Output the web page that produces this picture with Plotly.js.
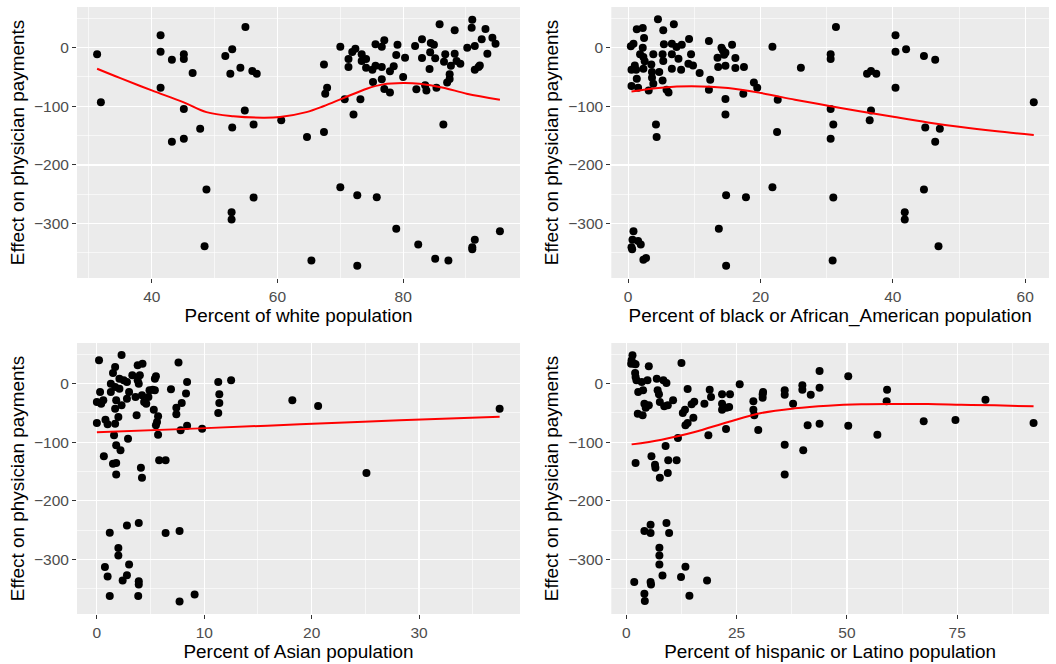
<!DOCTYPE html>
<html>
<head>
<meta charset="utf-8">
<script src="https://cdn.plot.ly/plotly-3.0.1.min.js"></script>
<style>html,body{margin:0;padding:0;background:#fff;}#chart{width:1056px;height:664px;}</style>
</head>
<body>
<div id="chart"></div>
<script>
// ---- data ----
const whiteX = [31.3,31.9,41.4,41.4,41.4,43.2,43.2,45.1,45.1,45.1,45.1,46.5,47.7,48.4,48.7,51.7,52.5,52.8,52.8,52.7,52.7,54.1,54.9,54.8,56.0,56.7,56.2,56.2,60.6,64.7,65.4,67.4,67.6,67.9,67.4,70.0,70.0,70.7,71.3,71.3,72.1,71.9,72.4,72.7,72.7,73.2,73.4,73.4,74.1,74.1,75.1,75.2,75.6,75.6,75.8,76.6,76.6,76.6,77.0,77.0,77.9,77.9,78.5,78.9,78.9,79.1,80.0,80.3,81.9,82.1,82.4,83.0,83.0,83.5,83.7,84.2,84.3,84.4,84.9,85.1,85.1,85.3,85.8,86.4,86.5,86.7,87.0,87.2,87.4,87.4,87.6,88.2,88.2,88.5,89.1,90.2,90.9,91.0,91.0,91.0,91.4,91.4,91.4,92.0,92.2,92.5,93.1,93.4,94.2,94.7,95.4];
const whiteY = [-11.4,-93.3,21,-6.8,-68.3,-20.5,-160.5,-11.4,-19.4,-104.7,-155.4,-43.3,-138.3,-338.6,-241.9,-14.2,-44.4,-2.8,-136,-280.6,-293.1,-34.1,35.3,-107,-39.8,-44.4,-130.9,-255.5,-124,-152.5,-363,-28.5,-78.5,-68.3,-144,1.7,-238,-88.2,-19.4,-33,-113.8,-7.4,-1.7,-251.6,-372.2,-88.2,-11.4,-22.8,-19.4,-34.1,-37.6,-58.6,5.7,-30.7,-255,1.7,-54,-33,12.5,-70.6,-76.3,-40.4,-31.9,-12.5,-309,5.1,-50.1,-17,2.8,-71.1,-335.8,14.2,-17.6,-64.3,-72.9,-36.4,-8,8,5.1,-18.2,-360.3,-68.3,39.8,-130.9,-23.9,-11.4,-59.2,-363,-45.5,-53.5,-30.7,29.6,-10.2,-22.8,-27.3,0,34.1,47.8,-340.4,-343.8,2.8,-37.6,-327.8,-33,-30.2,14.2,31.9,-10.2,17.1,6.8,-313];
const whiteSmoothX = [31.3,35,40,45,48.7,53,57.7,60.4,64.6,67.3,70.5,74.2,76.8,80,82.6,86.4,90.1,95.4];
const whiteSmoothY = [-35.9,-52,-72.9,-92.8,-110,-117,-119.5,-118.4,-110,-100,-86,-70,-62.6,-60.3,-61.5,-68.3,-78.5,-88.8];

const blackX = [0.5,0.4,0.8,0.5,1.0,1.2,1.3,1.5,1.3,0.8,0.65,0.5,0.6,1.5,1.9,2.3,2.7,2.2,2.4,2.2,1.8,2.3,2.5,2.3,3.5,3.6,3.6,3.1,3.8,3.8,4.2,4.3,4.5,4.7,5.3,5.4,5.2,5.3,5.2,5.8,6.1,6.6,6.6,6.6,6.9,7.3,7.6,8.1,8.0,9.2,9.1,9.5,9.8,10.8,12.2,12.4,12.2,13.7,13.5,13.6,14.1,14.3,14.5,14.7,14.7,14.7,14.7,14.8,14.8,15.7,16.2,16.2,17.5,17.4,17.8,19.0,19.5,21.8,21.8,22.6,22.5,26.1,30.6,30.6,30.6,30.6,31.0,31.0,30.9,31.4,36.1,36.7,37.5,36.7,36.5,40.4,40.4,40.4,42.0,41.8,41.8,44.7,44.9,44.7,46.4,46.4,47.1,46.9,61.3];
const blackY = [-65.5,2.3,6.8,-37.6,-30.2,-37.6,-53,-68.3,31.3,-313,-327.8,-340.4,-343.8,-330,-335.8,-362,-359,33.6,16.5,0,-11.4,-15.9,-23.3,-35.9,-28.5,-41.5,-51.2,-72.9,-61.5,-11.4,-130.9,-152.5,48.4,-41.5,29.6,5.7,-11.4,-22.8,-55.8,-71.7,-76.3,6.8,-11.4,-35.9,39.8,1.1,-18.8,5.1,-37.6,14.8,-27.3,-11.4,-30.2,-43.3,11.4,-54.6,-71.7,-309,-17,-33,0,-4.6,-12,-8.5,-30.7,-87.6,-113.8,-251.6,-372.2,5.1,-17.6,-34.7,-33,-78.5,-255,-59.2,-68.3,1.7,-238,-88.8,-144,-34.1,-11.4,-19.4,-104.7,-155.4,-130.9,-255.5,-363,35.3,-44.4,-39.8,-44.4,-107,-124,21,-6.8,-68.3,-2.8,-280.6,-293.1,-14.2,-136,-241.9,-20.5,-160.5,-138.3,-338.6,-93.3];
const blackSmoothX = [0.5,5,9.6,15.1,20.1,25.2,30.2,35.2,40.3,45.3,50.3,55.4,61.3];
const blackSmoothY = [-74.6,-68.3,-66,-68.9,-77.4,-88.8,-99,-108.7,-118.4,-127.5,-135.5,-142.3,-149];

const asianX = [0.2,0,0,0.3,0.4,0.6,0.65,0.8,1.0,0.75,1.0,1.2,1.2,1.3,1.3,1.5,1.5,1.7,1.6,1.7,1.8,1.8,1.8,1.7,1.8,1.7,2.0,2.0,2.0,2.2,2.3,2.1,2.1,2.3,2.4,2.5,2.8,2.8,2.9,2.8,2.8,3.0,3.0,3.3,3.6,3.7,3.8,3.8,3.9,4.0,3.9,3.9,3.9,3.85,4.1,4.2,4.25,4.2,4.4,4.6,4.8,4.9,5.2,5.3,5.4,5.5,5.4,5.5,5.6,5.7,5.7,5.8,6.4,6.4,6.9,7.4,7.4,7.6,7.7,7.7,7.8,7.9,8.3,8.4,8.4,9.1,9.8,11.3,11.4,11.4,11.3,12.5,18.2,20.6,25.1,37.5];
const asianY = [39.8,-31.3,-67.2,-14.2,-34.1,-28.5,-124,-61.5,-69.4,-313,-329,-254.4,-362.5,0,-14.2,-136.6,18.2,28.5,-88.2,-68.3,-105.3,-135.5,-154.8,-5.7,-28.5,-42.7,-56.9,-280.6,-293.1,-113.8,48.9,8.5,-8.5,-37,-335.8,5.7,2.8,-25.6,-93.9,-241.9,-326.7,-14.2,-308.5,14.2,-22.8,-54,31.3,5.7,0,14.2,-237.9,-337,-342.6,-362.5,-143.4,-160.5,34.1,-19.9,-31.3,-34.1,-22.8,-11.4,-10.2,-44.4,8.5,12.5,-11.4,-71.1,-65.5,-55.8,-87,-130.9,-130.9,-255,-9.7,-52.4,-41,35.9,-251.6,-371.7,-79.7,-33,-17,2.8,-71.7,-359.7,-76.8,2.8,-18.2,-33,-50.1,5.7,-28.5,-38.1,-152.5,-42.7];
const asianSmoothX = [0,9.6,18.9,28.2,37.5];
const asianSmoothY = [-83,-76.3,-69.4,-62.6,-56.3];

const hispX = [1.4,1.2,1.1,1.8,2.1,2.0,2.1,2.3,2.7,2.6,2.1,1.8,3.5,3.8,3.7,4.1,4.4,5.1,4.8,5.1,4.1,4.1,4.2,5.5,5.5,5.5,5.6,5.7,6.5,6.6,6.9,7.1,7.4,7.6,7.6,7.5,7.5,7.5,8.2,8.4,8.6,8.9,9.1,9.4,9.1,9.7,9.5,9.4,10.6,11.4,11.7,12.4,12.5,12.8,13.3,13.4,13.9,13.9,13.4,14.3,14.8,15.4,15.2,17.7,18.6,18.3,18.9,19.2,21.7,21.7,21.7,22.7,22.6,23.5,23.3,25.7,28.8,28.8,29.0,29.9,30.9,31.0,30.9,35.9,35.9,35.9,35.9,37.8,39.9,39.9,40.1,41.1,41.8,43.8,43.8,43.8,50.3,50.3,56.9,59.1,59.0,67.4,74.6,81.4,92.3];
const hispY = [48.4,39.8,34.1,34.1,33,18.2,11.4,5.7,-14.2,-51.2,-135.5,-338.6,2.8,-11.4,-54,-34.1,-41,-37,5.7,29.6,-251.6,-358.6,-371,-240.8,-255,-338.6,-342.6,-124,-138.3,-143.4,8.5,-11.4,-18.2,-31.3,-160.5,-280,-293.1,-308.5,-327.3,5.7,-38.7,-106.4,1.1,-152.5,-237.9,-255,-130.9,-37,-28.5,-130.9,-92.8,-330,35.3,-50.1,-44.4,-71.1,-9.1,-67.2,-312.5,-362,-35.3,-30.7,-58.1,-34.1,-88.2,-335.8,-10.2,-22.8,-18.2,-34.1,-44.4,-41,-77.4,-18.2,-39.8,-1.1,-30.2,-44.4,-54,-79.1,-18.2,-14.2,-23.9,-11.4,-18.8,-104.2,-154.8,-34.1,-2.8,-10.2,-113.8,-71.1,-18.8,21.6,-6.8,-68.3,12.5,-71.7,-87.1,-10.2,-30.2,-64.3,-62,-27.3,-67.2];
const hispSmoothX = [1.2,8,15.5,23.1,30.6,38.2,45.7,53.3,60.8,68.4,75.9,83.5,92.3];
const hispSmoothY = [-103.6,-95.6,-82.5,-65.5,-50.1,-42.1,-37.6,-35.3,-34.7,-34.7,-35.9,-37,-38.7];

const xTitles = ['Percent of white population','Percent of black or African_American population','Percent of Asian population','Percent of hispanic or Latino population'];
const yTitle = 'Effect on physician payments';
const yTickVals = [-300,-200,-100,0];
const yTickText = ['\u2212300','\u2212200','\u2212100','0'];

// ---- drawing ----
const FONT = 'Liberation Sans, Arial, Helvetica, sans-serif';
const panels = [
  {x: whiteX, y: whiteY, sx: whiteSmoothX, sy: whiteSmoothY},
  {x: blackX, y: blackY, sx: blackSmoothX, sy: blackSmoothY},
  {x: asianX, y: asianY, sx: asianSmoothX, sy: asianSmoothY},
  {x: hispX, y: hispY, sx: hispSmoothX, sy: hispSmoothY}
];
const traces = [];
panels.forEach((p, i) => {
  const xa = i === 0 ? 'x' : 'x' + (i + 1);
  const ya = i === 0 ? 'y' : 'y' + (i + 1);
  traces.push({type: 'scatter', mode: 'markers', x: p.x, y: p.y, xaxis: xa, yaxis: ya,
    marker: {color: '#000000', size: 8, line: {width: 0}}, hoverinfo: 'x+y', showlegend: false});
  traces.push({type: 'scatter', mode: 'lines', x: p.sx, y: p.sy, xaxis: xa, yaxis: ya,
    line: {color: '#FF0000', width: 2, shape: 'spline', smoothing: 1}, hoverinfo: 'skip', showlegend: false});
});

const xCfg = [
  {range: [28.1, 98.6], tick0: 0, dtick: 20, minor: 10, domain: [0, 0.4558], anchor: 'y'},
  {range: [-2.55, 63.6], tick0: 0, dtick: 20, minor: 10, domain: [0.5497, 1], anchor: 'y2'},
  {range: [-1.85, 39.4], tick0: 0, dtick: 10, minor: 5, domain: [0, 0.4558], anchor: 'y3'},
  {range: [-3.4, 95.8], tick0: 0, dtick: 25, minor: 12.5, domain: [0.5497, 1], anchor: 'y4'}
];
const yDomains = [[0.5535, 1], [0.5535, 1], [0, 0.4465], [0, 0.4465]];

const common = {
  showgrid: true, gridcolor: '#FFFFFF', gridwidth: 1.2, zeroline: false, showline: false,
  ticks: 'outside', ticklen: 4, tickwidth: 1, tickcolor: '#333333',
  tickfont: {family: FONT, size: 15.5, color: '#4D4D4D'}, fixedrange: true
};

const layout = {
  width: 1056, height: 664,
  margin: {l: 77, r: 7, t: 7, b: 50},
  paper_bgcolor: '#FFFFFF', plot_bgcolor: '#EBEBEB',
  font: {family: FONT, color: '#000000'},
  showlegend: false
};
xCfg.forEach((c, i) => {
  const k = i === 0 ? '' : String(i + 1);
  layout['xaxis' + k] = Object.assign({}, common, {
    range: c.range, tickmode: 'linear', tick0: c.tick0, dtick: c.dtick, domain: c.domain, anchor: c.anchor,
    minor: {showgrid: true, gridcolor: '#FFFFFF', gridwidth: 0.6, tick0: c.tick0, dtick: c.minor, ticks: ''},
    title: {text: xTitles[i], font: {family: FONT, size: 18.9, color: '#000000'}, standoff: 2}
  });
  layout['yaxis' + k] = Object.assign({}, common, {
    range: [-393, 69.4], tickmode: 'array', tickvals: yTickVals, ticktext: yTickText,
    domain: yDomains[i], anchor: i === 0 ? 'x' : 'x' + (i + 1),
    minor: {showgrid: true, gridcolor: '#FFFFFF', gridwidth: 0.6, tickvals: [50, -50, -150, -250, -350], ticks: ''},
    title: {text: yTitle, font: {family: FONT, size: 18.9, color: '#000000'}, standoff: 4}
  });
});

Plotly.newPlot('chart', traces, layout, {staticPlot: true, displayModeBar: false});
</script>
</body>
</html>
